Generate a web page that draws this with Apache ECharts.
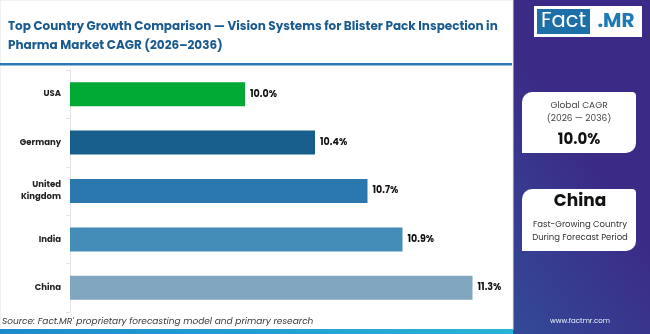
<!DOCTYPE html>
<html>
<head>
<meta charset="utf-8">
<style>
  html, body { margin: 0; padding: 0; background: #fff; }
  #chart { width: 650px; height: 334px; }
</style>
<script src="https://cdn.jsdelivr.net/npm/echarts@6/dist/echarts.min.js"></script>
</head>
<body>
<div id="chart"></div>
<script>
// Country CAGR values, 2026–2036
const countries = ['USA', 'Germany', 'United\nKingdom', 'India', 'China'];
const cagr = [10.0, 10.4, 10.7, 10.9, 11.3];
const barColors = ['#00a934', '#175e8c', '#2a78ad', '#448db9', '#80a7bf'];

const globalCagr = '10.0%';
const leadCountry = 'China';

const FONT = 'Poppins, Inter, "Noto Sans", sans-serif';

const chart = echarts.init(document.getElementById('chart'));

const option = {
  animation: false,
  backgroundColor: {
    type: 'linear', x: 0.75, y: 0, x2: 0, y2: 1,
    colorStops: [
      { offset: 0, color: '#3b2a86' },
      { offset: 0.5, color: '#2d62a6' },
      { offset: 1, color: '#2cc0c8' }
    ]
  },
  graphic: [
    // white main panel
    { type: 'rect', z: -10, shape: { x: 0, y: 0, width: 513, height: 330 },
      style: { fill: '#ffffff', stroke: '#e4e4e4', lineWidth: 1 } },
    // rule below the title
    { type: 'rect', z: 1, shape: { x: 0, y: 63, width: 512, height: 2.5 },
      style: { fill: '#2b79b3' } },
    // bottom strip
    { type: 'rect', z: 1, shape: { x: 0, y: 329, width: 513, height: 5 },
      style: { fill: { type: 'linear', x: 0, y: 0, x2: 1, y2: 0,
        colorStops: [{ offset: 0, color: '#1c8bcc' }, { offset: 1, color: '#27b4d6' }] } } },
    // title
    { type: 'text', z: 2, left: 8, top: 17,
      style: { text: 'Top Country Growth Comparison — Vision Systems for Blister Pack Inspection in\nPharma Market CAGR (2026–2036)',
        font: 'bold 12px ' + FONT, fill: '#1a5b8f', lineHeight: 19 } },
    // source
    { type: 'text', z: 2, left: 2, top: 317,
      style: { text: 'Source: Fact.MR\' proprietary forecasting model and primary research',
        font: 'italic 9px ' + FONT, fill: '#3a3a3a' } },

    // logo
    { type: 'rect', z: 2, shape: { x: 534, y: 6, width: 108, height: 31 },
      style: { fill: '#ffffff' } },
    { type: 'rect', z: 3, shape: { x: 537, y: 9, width: 53, height: 25 },
      style: { fill: '#1d6fa8' } },
    { type: 'text', z: 4, x: 563.5, y: 21.5,
      style: { text: 'Fact', font: '21px ' + FONT, fill: '#ffffff', align: 'center', verticalAlign: 'middle' } },
    { type: 'text', z: 4, x: 616, y: 21.5,
      style: { text: '.MR', font: 'bold 20px ' + FONT, fill: '#1d7ab8', align: 'center', verticalAlign: 'middle' } },

    // global CAGR card
    { type: 'rect', z: 2, shape: { x: 522, y: 92, width: 114, height: 61, r: [10, 4, 10, 0] },
      style: { fill: '#ffffff' } },
    { type: 'text', z: 3, x: 579, y: 106,
      style: { text: 'Global CAGR', font: '9px ' + FONT, fill: '#444', align: 'center', verticalAlign: 'middle' } },
    { type: 'text', z: 3, x: 579, y: 119,
      style: { text: '(2026 — 2036)', font: '9px ' + FONT, fill: '#444', align: 'center', verticalAlign: 'middle' } },
    { type: 'text', z: 3, x: 579, y: 140,
      style: { text: globalCagr, font: 'bold 15px ' + FONT, fill: '#111', align: 'center', verticalAlign: 'middle' } },

    // fastest growing country card
    { type: 'rect', z: 2, shape: { x: 522, y: 189, width: 114, height: 62, r: [10, 4, 10, 0] },
      style: { fill: '#ffffff' } },
    { type: 'text', z: 3, x: 580, y: 202,
      style: { text: leadCountry, font: 'bold 17px ' + FONT, fill: '#111', align: 'center', verticalAlign: 'middle' } },
    { type: 'text', z: 3, x: 580, y: 225,
      style: { text: 'Fast-Growing Country', font: '8.5px ' + FONT, fill: '#333', align: 'center', verticalAlign: 'middle' } },
    { type: 'text', z: 3, x: 580, y: 238,
      style: { text: 'During Forecast Period', font: '8.5px ' + FONT, fill: '#333', align: 'center', verticalAlign: 'middle' } },

    // website
    { type: 'text', z: 3, x: 580, y: 321,
      style: { text: 'www.factmr.com', font: '7px ' + FONT, fill: '#e8f4fa', align: 'center', verticalAlign: 'middle' } }
  ],
  grid: { left: 70, right: 142.5, top: 70, bottom: 22 },
  xAxis: {
    type: 'value', min: 9, max: 11.5,
    show: false
  },
  yAxis: {
    type: 'category',
    data: countries,
    inverse: true,
    axisLine: { show: true, lineStyle: { color: '#e2e2e2', width: 1 } },
    axisTick: { show: true, length: 4, lineStyle: { color: '#e2e2e2' } },
    axisLabel: {
      margin: 9, fontFamily: FONT, fontWeight: 'bold', fontSize: 8.5, color: '#222',
      lineHeight: 12
    }
  },
  series: [{
    type: 'bar',
    barWidth: 24,
    data: cagr.map((v, i) => ({ value: v, itemStyle: { color: barColors[i] } })),
    label: {
      show: true, position: 'right', distance: 5,
      fontFamily: FONT, fontWeight: 'bold', fontSize: 9.5, color: '#111',
      formatter: p => p.value.toFixed(1) + '%'
    }
  }]
};

chart.setOption(option);
</script>
</body>
</html>
